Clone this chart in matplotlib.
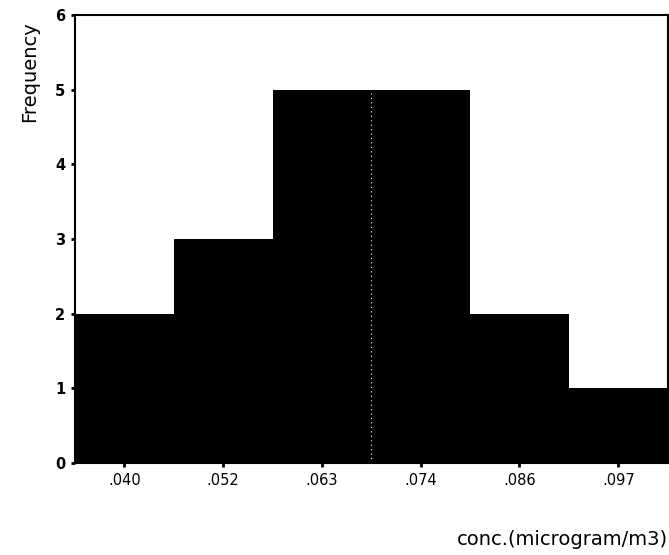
import numpy as np
import matplotlib
matplotlib.use('Agg')
import matplotlib.pyplot as plt

# histogram of concentrations (microgram/m3)
bin_centers = [0.0405, 0.0518, 0.0631, 0.0744, 0.0857, 0.0970]
freq = [2, 3, 5, 5, 2, 1]
tick_labels = ['.040', '.052', '.063', '.074', '.086', '.097']
bin_width = 0.0113

fig = plt.figure(figsize=(6.69, 5.55), dpi=100)
ax = fig.add_axes([0.112, 0.166, 0.886, 0.807])

ax.bar(bin_centers, freq, width=bin_width, color='black', edgecolor='none',
       align='center')
# faint white dotted seam between the two tallest bars
edge = bin_centers[2] + bin_width / 2
ax.vlines(edge, 0, 5, colors='white', linestyles=(0, (1, 3)), linewidth=0.8)

ax.set_xlim(bin_centers[0] - bin_width / 2, bin_centers[-1] + bin_width / 2)
ax.set_ylim(0, 6)
ax.set_xticks(bin_centers)
ax.set_xticklabels(tick_labels, fontsize=10.5)
ax.set_yticks(range(7))
ax.set_yticklabels([str(i) for i in range(7)], fontsize=10.5, fontweight='bold')
ax.tick_params(length=3, width=2, direction='out', pad=4)

for s in ax.spines.values():
    s.set_linewidth(1.5)

ax.text(-0.076, 0.873, 'Frequency', transform=ax.transAxes, rotation=90,
        ha='center', va='center', fontsize=14)
ax.text(1.0, -0.172, 'conc.(microgram/m3)', transform=ax.transAxes,
        ha='right', va='center', fontsize=14)

plt.savefig('out.png', dpi=100)
